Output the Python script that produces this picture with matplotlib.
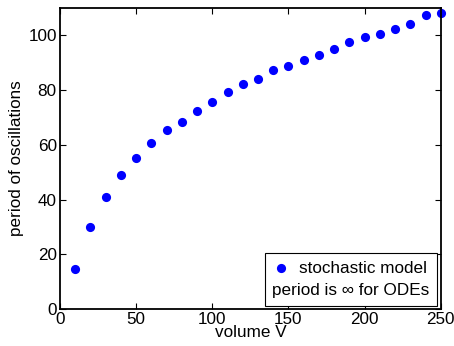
import numpy as np
import matplotlib
matplotlib.use("Agg")
import matplotlib.pyplot as plt
from matplotlib.offsetbox import (AnchoredOffsetbox, DrawingArea, HPacker,
                                  TextArea, VPacker)
from matplotlib.lines import Line2D

plt.rcParams['font.family'] = ['Liberation Sans', 'DejaVu Sans']
plt.rcParams['font.size'] = 12.3

# volume V and measured period of oscillations (stochastic model)
volume = np.arange(10, 251, 10)
period = [14.7, 30.0, 40.9, 48.8, 55.2, 60.5, 65.3, 68.2, 72.5, 75.5,
          79.2, 82.1, 83.9, 87.2, 88.7, 91.0, 92.7, 94.9, 97.4, 99.3,
          100.6, 102.3, 104.0, 107.4, 108.1]
xticks = [0, 50, 100, 150, 200, 250]
yticks = [0, 20, 40, 60, 80, 100]

fig = plt.figure(figsize=(4.54, 3.46), dpi=100)
ax = fig.add_axes([0.132, 0.107, 0.839, 0.870])

ax.plot(volume, period, 'o', color=(0, 0, 1), markersize=6.6,
        markeredgewidth=0, clip_on=False)

ax.set_xlim(0, 250)
ax.set_ylim(0, 110)
ax.set_xticks(xticks)
ax.set_yticks(yticks)
ax.tick_params(direction='in', top=True, right=True, length=4, width=0.8,
               labelsize=12.3)
ax.tick_params(axis='x', pad=2.5)
ax.tick_params(axis='y', pad=2.2)
for s in ax.spines.values():
    s.set_linewidth(1.3)

ax.set_xlabel('volume V', labelpad=-2)
ax.set_ylabel('period of oscillations', labelpad=3)

# legend: marker entry plus a text-only line
da = DrawingArea(14, 10, 0, 0)
da.add_artist(Line2D([6], [5], marker='o', color=(0, 0, 1), markersize=6.6,
                     markeredgewidth=0, linestyle='none'))
row1 = HPacker(children=[da, TextArea('stochastic model')], pad=0, sep=5,
               align='center')
row2 = TextArea('period is \u221e for ODEs')
box = VPacker(children=[row1, row2], pad=0, sep=5, align='left')
anch = AnchoredOffsetbox(loc='lower right', child=box, pad=0.45,
                         borderpad=0.2, frameon=True)
anch.patch.set_linewidth(0.8)
anch.patch.set_edgecolor('black')
ax.add_artist(anch)

fig.savefig('out.png', dpi=100)
